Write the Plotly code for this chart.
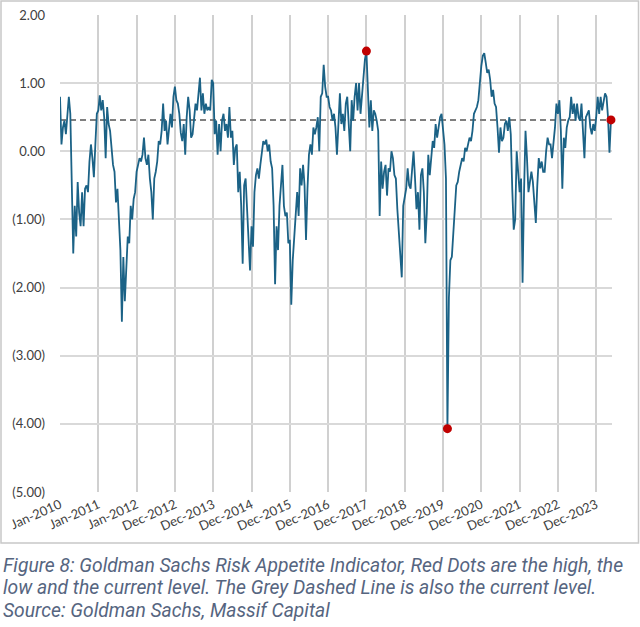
import pandas as pd
import plotly.graph_objects as go

# ---- data (bi-weekly readings of the GS Risk Appetite Indicator) ----
y2010 = [0.80, 0.10, 0.35, 0.45, 0.25, 0.50, 0.80, 0.55, -0.60, -1.50, -0.80, -1.25, -0.45,
         -0.90, -1.10, -0.60, -1.10, -0.55, -0.50, -0.60, -0.15, 0.10, -0.10, -0.38, 0.10, 0.55]
y2011 = [0.60, 0.82, 0.60, 0.75, 0.50, -0.10, 0.65, 0.40, 0.30, 0.00, -0.20, -0.30, -0.75,
         -0.55, -1.10, -1.45, -2.50, -1.55, -2.20, -1.75, -1.25, -1.35, -0.80, -1.00, -0.70, -0.60]
y2012 = [-0.30, -0.20, -0.10, -0.15, -0.05, 0.20, -0.10, -0.20, -0.05, -0.40, -0.60, -1.00, -0.40,
         -0.30, -0.15, 0.15, 0.10, 0.30, 0.70, 0.30, 0.45, 0.10, 0.30, 0.55, 0.35, 0.80]
y2013 = [0.95, 0.75, 0.70, 0.55, 0.27, 0.15, 0.40, -0.05, 0.50, 0.80, 0.60, 0.20, 0.25,
         0.55, 0.70, 0.60, 0.90, 1.08, 0.60, 0.85, 0.55, 0.70, 0.60, 0.65, 0.60, 1.05]
y2014 = [1.00, 0.25, 0.45, -0.05, 0.40, 0.00, 0.45, 0.55, 0.30, 0.40, 0.20, 0.65, 0.20,
         0.30, -0.20, 0.05, 0.10, -0.60, -0.30, -0.80, -1.65, -0.50, -0.40, -0.80, -1.30, -1.75]
y2015 = [-1.10, -1.40, -0.60, -0.35, -0.25, -0.40, -0.20, 0.00, 0.15, 0.10, 0.17, 0.00, 0.10,
         -0.15, -0.25, -0.80, -1.95, -1.10, -1.45, -0.80, -0.40, -0.20, -0.80, -0.95, -0.90, -1.35]
y2016 = [-1.30, -2.25, -1.60, -1.20, -0.80, -0.60, -0.95, -0.25, -0.50, -0.20, -0.50, -1.30, -0.55,
         -0.05, 0.10, -0.05, 0.35, 0.25, 0.35, 0.50, 0.00, 0.80, 0.85, 1.27, 0.95, 0.80]
y2017 = [0.80, 0.65, 0.60, 0.45, 0.55, 0.35, -0.05, 0.55, 0.85, 0.40, 0.55, 0.30, 0.70,
         0.80, 0.40, 0.00, 0.75, 0.45, 0.80, 1.00, 0.60, 1.00, 0.55, 0.80, 1.10, 1.35]
y2018 = [1.47, 0.90, 0.35, 0.75, 0.30, 0.60, 0.55, 0.45, 0.30, -0.95, -0.15, -0.55, -0.30,
         -0.20, -0.65, -0.25, -0.30, 0.00, -0.10, -0.35, -0.40, -0.85, -1.25, -1.55, -1.85, -0.80]
y2019 = [-0.70, -0.55, -0.25, -0.50, -0.55, -0.30, 0.00, -0.40, -0.85, -0.60, -1.15, -0.35, -0.25,
         -0.60, -1.35, -0.90, -0.05, -0.35, -0.10, 0.15, 0.05, 0.40, 0.20, 0.40, 0.50, 0.55]
y2020 = [0.30, 0.10, -0.40, -4.07, -2.15, -1.60, -1.55, -1.10, -0.85, -0.50, -0.45, -0.30, -0.20,
         -0.10, -0.15, 0.05, 0.00, 0.10, 0.20, 0.15, 0.30, 0.55, 0.60, 0.65, 0.75, 1.05]
y2021 = [1.25, 1.40, 1.44, 1.30, 1.15, 1.20, 1.05, 0.80, 0.90, 0.70, 0.65, 0.35, -0.02,
         0.35, 0.15, 0.20, 0.40, 0.45, 0.30, 0.50, 0.25, -0.55, -1.15, -1.00, 0.00, -0.30]
y2022 = [-0.60, -0.40, -1.93, -0.60, 0.30, -0.10, -0.60, -0.45, -0.30, -0.45, -0.80, -1.05, -0.50,
         -0.10, -0.25, -0.15, -0.30, -0.30, 0.00, 0.20, 0.10, 0.10, -0.10, 0.10, 0.35, 0.70]
y2023 = [0.55, 0.75, 0.30, -0.55, 0.20, 0.05, 0.35, 0.45, 0.50, 0.80, 0.55, 0.70, 0.45,
         0.70, 0.50, 0.45, 0.70, 0.30, -0.10, 0.50, 0.55, 0.60, 0.35, 0.25, 0.40, 0.30]
y2024 = [0.50, 0.80, 0.55, 0.80, 0.60, 0.70, 0.85, 0.80, 0.50, -0.02, 0.46]

x_labels = ["Jan-2010", "Jan-2011", "Jan-2012", "Dec-2012", "Dec-2013", "Dec-2014", "Dec-2015",
            "Dec-2016", "Dec-2017", "Dec-2018", "Dec-2019", "Dec-2020", "Dec-2021", "Dec-2022",
            "Dec-2023"]
y_ticks = [2, 1, 0, -1, -2, -3, -4, -5]
y_labels = ["2.00", "1.00", "0.00", "(1.00)", "(2.00)", "(3.00)", "(4.00)", "(5.00)"]

caption = ["Figure 8: Goldman Sachs Risk Appetite Indicator, Red Dots are the high, the",
           "low and the current level. The Grey Dashed Line is also the current level.",
           "Source: Goldman Sachs, Massif Capital"]

# ---- build ----
values = (y2010 + y2011 + y2012 + y2013 + y2014 + y2015 + y2016 + y2017 + y2018 + y2019
          + y2020 + y2021 + y2022 + y2023 + y2024)
start = pd.Timestamp("2010-01-08")
dates = pd.date_range(start, periods=len(values), freq="14D")
tick_dates = [start + pd.Timedelta(days=364 * k) for k in range(len(x_labels))]

i_max = max(range(len(values)), key=lambda i: values[i])
i_min = min(range(len(values)), key=lambda i: values[i])
i_last = len(values) - 1
current = values[i_last]

fig = go.Figure()
fig.add_trace(go.Scatter(
    x=[dates[0], dates[-1]], y=[current, current], mode="lines",
    line=dict(color="#7f7f7f", width=2, dash="6px,4px"), hoverinfo="skip"))
fig.add_trace(go.Scatter(
    x=dates, y=values, mode="lines",
    line=dict(color="#1b6286", width=1.8)))
fig.add_trace(go.Scatter(
    x=[dates[i_max], dates[i_min], dates[i_last]],
    y=[values[i_max], values[i_min], values[i_last]],
    mode="markers", marker=dict(color="#c00000", size=9), cliponaxis=False))

# plot area in pixels: x 60..612, y 15..492
L, R, T, B = 60, 28, 15, 135
W, H = 640, 627
pw, ph = W - L - R, H - T - B

def px(xp):
    return (xp - L) / pw

def py(yp):
    return (H - B - yp) / ph

fig.update_layout(
    width=W, height=H, margin=dict(l=L, r=R, t=T, b=B, autoexpand=False),
    paper_bgcolor="white", plot_bgcolor="white", showlegend=False,
    font=dict(family="Lato, 'Open Sans', sans-serif", color="#404040", size=13),
    xaxis=dict(type="date", range=[dates[0], dates[-1] + pd.Timedelta(days=10)],
               tickmode="array", tickvals=tick_dates, ticktext=x_labels, tickangle=-24,
               showgrid=True, gridcolor="#d0d0d0", gridwidth=1.5, zeroline=False,
               showline=False, ticks="", ticklabelstandoff=2, automargin=False,
               tickfont=dict(size=13, color="#404040")),
    yaxis=dict(range=[-5, 2], tickmode="array", tickvals=y_ticks, ticktext=y_labels,
               showgrid=True, gridcolor="#d9d9d9", gridwidth=1.5, zeroline=False,
               showline=False, ticks="", ticklabelstandoff=14, automargin=False,
               tickfont=dict(size=13, color="#404040")),
)

# outer chart border
fig.add_shape(type="rect", xref="paper", yref="paper",
              x0=px(1), x1=px(638.5), y0=py(543), y1=py(1),
              line=dict(color="#c8c8c8", width=1.5), layer="below")

for k, (line, ycen) in enumerate(zip(caption, [565, 587.7, 610.4])):
    fig.add_annotation(text="<i>" + line + "</i>", xref="paper", yref="paper",
                       x=px(1), y=py(ycen), xanchor="left", yanchor="middle",
                       showarrow=False,
                       font=dict(family="Roboto, sans-serif", size=19.3, color="#56657f"))

fig.write_html("out.html")
